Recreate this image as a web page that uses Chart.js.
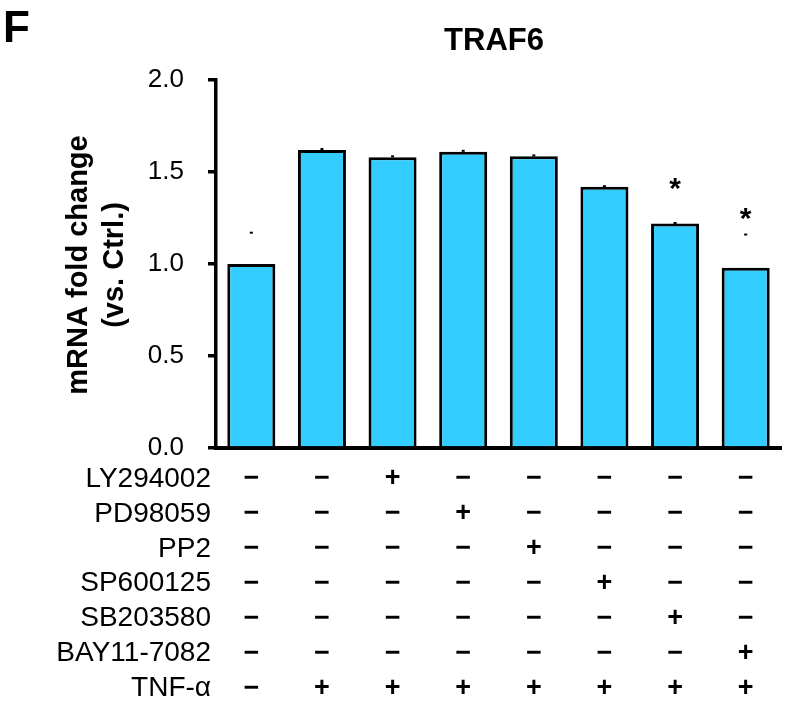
<!DOCTYPE html>
<html>
<head>
<meta charset="utf-8">
<script src="https://cdn.jsdelivr.net/npm/chart.js@4/dist/chart.umd.min.js"></script>
<style>
  html, body { margin: 0; padding: 0; background: #fff; }
  #c { display: block; }
</style>
</head>
<body>
<canvas id="c" width="788" height="704"></canvas>
<script>
// ---- data ----
const panelLetter = 'F';
const chartTitle = 'TRAF6';
const yTitleLines = ['mRNA fold change', '(vs. Ctrl.)'];
const categories = ['Ctrl', 'TNF-α', 'LY294002 + TNF-α', 'PD98059 + TNF-α', 'PP2 + TNF-α',
                    'SP600125 + TNF-α', 'SB203580 + TNF-α', 'BAY11-7082 + TNF-α'];
const foldChange = [1.00, 1.62, 1.58, 1.61, 1.585, 1.42, 1.22, 0.98];
const errorValues = [0.17, 0.005, 0.005, 0.005, 0.005, 0.003, 0.003, 0.18];
const significance = ['', '', '', '', '', '', '*', '*'];
const significanceLevel = [null, null, null, null, null, null, 1.45, 1.29];
const yTicks = [0, 0.5, 1.0, 1.5, 2.0];
const treatmentNames = ['LY294002', 'PD98059', 'PP2', 'SP600125', 'SB203580', 'BAY11-7082', 'TNF-α'];
const treatmentLY   = ['−', '−', '+', '−', '−', '−', '−', '−'];
const treatmentPD   = ['−', '−', '−', '+', '−', '−', '−', '−'];
const treatmentPP2  = ['−', '−', '−', '−', '+', '−', '−', '−'];
const treatmentSP   = ['−', '−', '−', '−', '−', '+', '−', '−'];
const treatmentSB   = ['−', '−', '−', '−', '−', '−', '+', '−'];
const treatmentBAY  = ['−', '−', '−', '−', '−', '−', '−', '+'];
const treatmentTNF  = ['−', '+', '+', '+', '+', '+', '+', '+'];
const treatmentSigns = [treatmentLY, treatmentPD, treatmentPP2, treatmentSP, treatmentSB, treatmentBAY, treatmentTNF];

const FONT = 'Arial, "Liberation Sans", sans-serif';

const annotations = {
  id: 'annotations',
  afterDatasetsDraw(chart) {
    const ctx = chart.ctx;
    const x = chart.scales.x, y = chart.scales.y;
    ctx.save();
    // error bar caps
    ctx.strokeStyle = '#000';
    ctx.lineWidth = 2;
    foldChange.forEach((v, i) => {
      const cx = x.getPixelForValue(i);
      const py = y.getPixelForValue(v + errorValues[i]);
      ctx.beginPath();
      ctx.moveTo(cx - 1.5, py);
      ctx.lineTo(cx + 1.5, py);
      ctx.stroke();
    });
    // significance asterisks
    ctx.fillStyle = '#000';
    ctx.font = 'bold 30px ' + FONT;
    ctx.textAlign = 'center';
    ctx.textBaseline = 'alphabetic';
    significance.forEach((s, i) => {
      if (!s) return;
      ctx.fillText(s, x.getPixelForValue(i), y.getPixelForValue(significanceLevel[i]) + 17);
    });
    ctx.restore();
  },
  afterDraw(chart) {
    const ctx = chart.ctx;
    const x = chart.scales.x;
    const area = chart.chartArea;
    ctx.save();
    ctx.fillStyle = '#000';
    // panel letter
    ctx.font = 'bold 44px ' + FONT;
    ctx.textAlign = 'left';
    ctx.textBaseline = 'alphabetic';
    ctx.fillText(panelLetter, 3, 42);
    // title
    ctx.font = 'bold 31px ' + FONT;
    ctx.textAlign = 'center';
    ctx.fillText(chartTitle, 494, 50);
    // y axis title
    ctx.save();
    ctx.translate(0, (area.top + area.bottom) / 2 + 1);
    ctx.rotate(-Math.PI / 2);
    ctx.font = 'bold 29px ' + FONT;
    ctx.textAlign = 'center';
    ctx.textBaseline = 'middle';
    ctx.fillText(yTitleLines[0], 0, 79);
    ctx.fillText(yTitleLines[1], 0, 115);
    ctx.restore();
    // treatment table
    ctx.textBaseline = 'middle';
    treatmentNames.forEach((name, r) => {
      const ry = area.bottom + 31 + r * 34.9;
      ctx.font = '28px ' + FONT;
      ctx.textAlign = 'right';
      ctx.fillText(name, 211, ry);
      ctx.font = 'bold 27px ' + FONT;
      ctx.textAlign = 'center';
      treatmentSigns[r].forEach((s, i) => {
        ctx.fillText(s, x.getPixelForValue(i), ry);
      });
    });
    ctx.restore();
  }
};

new Chart(document.getElementById('c'), {
  type: 'bar',
  data: {
    labels: categories,
    datasets: [{
      data: foldChange,
      backgroundColor: '#33CCFF',
      borderColor: '#000',
      borderWidth: 3,
      barPercentage: 0.68,
      categoryPercentage: 1.0
    }]
  },
  options: {
    responsive: false,
    devicePixelRatio: 1,
    animation: false,
    layout: { padding: { top: 80, right: 7, left: 0, bottom: 0 } },
    plugins: { legend: { display: false }, tooltip: { enabled: false }, title: { display: false } },
    scales: {
      x: {
        ticks: { display: false },
        grid: { display: false, drawTicks: false },
        border: { display: true, color: '#000', width: 4 },
        afterFit(s) { s.height = 256; }
      },
      y: {
        min: 0, max: 2,
        afterBuildTicks(s) { s.ticks = yTicks.map(v => ({ value: v })); },
        ticks: {
          callback: v => Number(v).toFixed(1),
          font: { family: FONT, size: 26 },
          color: '#000',
          padding: 24
        },
        grid: { drawOnChartArea: false, drawTicks: true, tickLength: 8, color: '#000', lineWidth: 3.5 },
        border: { display: true, color: '#000', width: 3.5 },
        afterFit(s) { s.width = 216; }
      }
    }
  },
  plugins: [annotations]
});
</script>
</body>
</html>
